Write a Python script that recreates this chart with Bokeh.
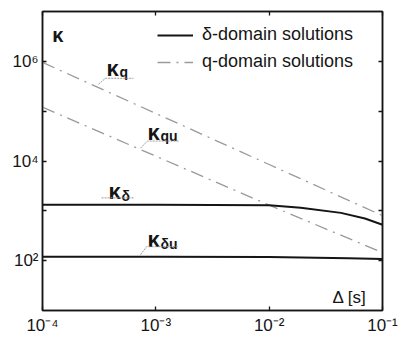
from bokeh.plotting import figure
from bokeh.models import (LogAxis, FixedTicker, CustomJSTickFormatter, Legend,
                          LegendItem, ColumnDataSource)
from bokeh.core.properties import value
from bokeh.embed import file_html
from bokeh.resources import INLINE

# sampling period (s) and condition numbers
delta_dom_x = [1e-4, 1e-3, 1e-2, 1.9e-2, 4.3e-2, 7e-2, 1e-1]
kappa_delta = [1320, 1320, 1300, 1150, 910, 700, 525]

delta_u_x = [1e-4, 1e-3, 1e-2, 5e-2, 1e-1]
kappa_delta_u = [120, 120, 118, 112, 108]

q_dom_x = [1e-4, 1e-3, 1e-2, 1e-1]
kappa_q = [9.5e5, 9.0e4, 8.5e3, 8.0e2]
kappa_qu = [1.2e5, 1.25e4, 1.3e3, 1.45e2]

x_ticks = [1e-4, 1e-3, 1e-2, 1e-1]
x_labels = ["10⁻⁴", "10⁻³", "10⁻²", "10⁻¹"]
y_ticks = [1e2, 1e3, 1e4, 1e5, 1e6]
y_labels = ["10²", "", "10⁴", "", "10⁶"]

FONT = "Liberation Sans"
BLACK = "#151515"
GREY = "#9a9a9a"

p = figure(width=401, height=337, x_axis_type="log", y_axis_type="log",
           x_range=(1e-4, 1e-1), y_range=(1e1, 1e7),
           output_backend="svg", toolbar_location=None,
           min_border_left=42, min_border_right=19,
           min_border_top=11, min_border_bottom=26)
p.background_fill_color = "white"
p.border_fill_color = "white"
p.xgrid.visible = False
p.ygrid.visible = False
p.outline_line_color = BLACK
p.outline_line_width = 1.5

fmt_js = """
const i = tvals.findIndex(t => Math.abs(Math.log10(t) - Math.log10(tick)) < 1e-6);
return i >= 0 ? tlabels[i] : "";
"""
x_fmt = CustomJSTickFormatter(args=dict(tvals=x_ticks, tlabels=x_labels), code=fmt_js)
y_fmt = CustomJSTickFormatter(args=dict(tvals=y_ticks, tlabels=y_labels), code=fmt_js)
blank = CustomJSTickFormatter(code="return '';")


def style_axis(ax, fmt, show_labels=True):
    ax.major_tick_in = 4
    ax.major_tick_out = 0
    ax.minor_tick_in = 0
    ax.minor_tick_out = 0
    ax.axis_line_color = BLACK
    ax.axis_line_width = 1.5
    ax.major_tick_line_color = BLACK
    ax.major_tick_line_width = 1.3
    ax.formatter = fmt
    ax.major_label_text_font = FONT
    ax.major_label_text_color = BLACK
    if show_labels:
        ax.major_label_text_font_size = "17px"
    else:
        ax.major_label_text_font_size = "0px"
        ax.major_label_standoff = 0


p.xaxis.ticker = FixedTicker(ticks=x_ticks)
p.yaxis.ticker = FixedTicker(ticks=y_ticks)
style_axis(p.xaxis[0], x_fmt)
style_axis(p.yaxis[0], y_fmt)
p.xaxis.major_label_standoff = 5
p.yaxis.major_label_standoff = 4

top_ax = LogAxis(ticker=FixedTicker(ticks=x_ticks))
style_axis(top_ax, blank, show_labels=False)
right_ax = LogAxis(ticker=FixedTicker(ticks=y_ticks))
style_axis(right_ax, blank, show_labels=False)
p.add_layout(top_ax, "above")
p.add_layout(right_ax, "right")

# q-domain curves (dash-dot grey)
DASH = "13 6 2 6"
r_q = p.line(q_dom_x, kappa_q, line_color=GREY, line_width=1.3, line_dash=DASH)
p.line(q_dom_x, kappa_qu, line_color=GREY, line_width=1.3, line_dash=DASH)

# delta-domain curves (solid black)
r_d = p.line(delta_dom_x, kappa_delta, line_color=BLACK, line_width=2)
p.line(delta_u_x, kappa_delta_u, line_color=BLACK, line_width=2)

legend = Legend(items=[LegendItem(label="δ-domain solutions", renderers=[r_d]),
                       LegendItem(label="q-domain solutions", renderers=[r_q])],
                location=(115, 238), padding=0, margin=0, spacing=6,
                glyph_width=36, glyph_height=20, label_height=20,
                label_standoff=9, label_text_font=FONT,
                label_text_font_size="18px", label_text_color=BLACK,
                border_line_alpha=0, background_fill_alpha=0)
p.add_layout(legend)

# axis symbol in the top-left corner
p.text([1.22e-4], [10**6.52], text=["κ"], text_font=value(FONT),
       text_font_size="20px", text_font_style="bold", text_color=BLACK,
       text_baseline="alphabetic", text_align="left")

# curve labels: symbol with subscript, underline and leader to the curve
lab_src = ColumnDataSource(dict(
    x=[3.67e-4, 10**-3.074, 10**-3.418, 10**-3.074],
    y=[10**5.86, 10**4.58, 10**3.38, 10**2.42],
    k=["κ", "κ", "κ", "κ"],
    sub=["q", "qu", "δ", "δu"]))
p.text("x", "y", text="k", source=lab_src, text_font=value(FONT),
       text_font_size="22px", text_font_style="bold", text_color=BLACK,
       text_baseline="alphabetic", text_align="left")
p.text("x", "y", text="sub", source=lab_src, text_font=value(FONT),
       text_font_size="14px", text_font_style="bold", text_color=BLACK,
       text_baseline="alphabetic", text_align="left", x_offset=13, y_offset=4)

leader_xs = [[10**-3.506, 10**-3.444, 10**-3.197],
             [10**-3.135, 10**-3.074, 10**-2.80],
             [10**-3.479, 10**-3.197],
             [10**-3.135, 10**-3.082, 10**-2.80]]
leader_ys = [[10**5.54, 10**5.66, 10**5.66],
             [10**4.26, 10**4.40, 10**4.40],
             [10**3.26, 10**3.26],
             [10**2.12, 10**2.28, 10**2.28]]
p.multi_line(leader_xs, leader_ys, line_color="#9a9a9a", line_width=1,
             line_dash="2 1")

p.text([10**-1.441], [10**1.26], text=["Δ [s]"], text_font=value(FONT),
       text_font_size="17px", text_color=BLACK, text_baseline="alphabetic",
       text_align="left")

open("out.html", "w").write(file_html(p, INLINE))
